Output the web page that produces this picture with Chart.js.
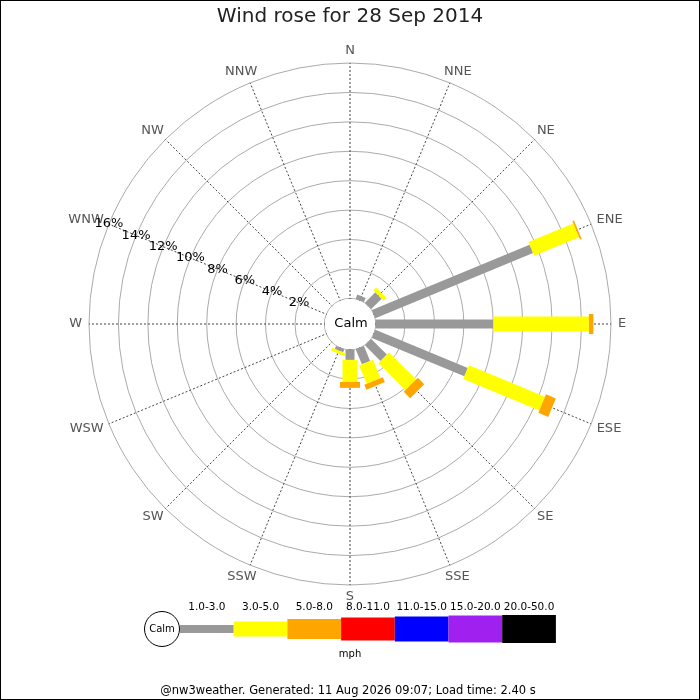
<!DOCTYPE html>
<html>
<head>
<meta charset="utf-8">
<script src="https://cdn.jsdelivr.net/npm/chart.js@4/dist/chart.umd.min.js"></script>
<style>
  body { margin: 0; background: #fff; }
  #wrap { position: relative; width: 700px; height: 700px; }
  #frame { position: absolute; left: 0; top: 0; width: 700px; height: 700px; box-sizing: border-box; border: 1px solid #000; pointer-events: none; }
</style>
</head>
<body>
<div id="wrap">
  <canvas id="rose" width="700" height="700"></canvas>
  <div id="frame"></div>
</div>
<script>
// compass points, clockwise from north
const directions = ["N", "NNE", "NE", "ENE", "E", "ESE", "SE", "SSE", "S", "SSW", "SW", "WSW", "W", "WNW", "NW", "NNW"];

// % of the day per direction and speed band (mph)
const speed1to3 = [0, 0.3, 1.0, 11.6, 8.0, 6.8, 1.5, 1.1, 0.7, 0.22, 0, 0, 0, 0, 0, 0];
const speed3to5 = [0, 0, 0.27, 3.3, 6.5, 5.6, 2.6, 1.35, 1.5, 0.2, 0, 0, 0, 0, 0, 0];
const speed5to8 = [0, 0, 0, 0.12, 0.3, 0.72, 0.62, 0.36, 0.4, 0, 0, 0, 0, 0, 0, 0];
const speed8to11 = [0, 0, 0, 0, 0, 0, 0, 0, 0, 0, 0, 0, 0, 0, 0, 0];
const speed11to15 = [0, 0, 0, 0, 0, 0, 0, 0, 0, 0, 0, 0, 0, 0, 0, 0];
const speed15to20 = [0, 0, 0, 0, 0, 0, 0, 0, 0, 0, 0, 0, 0, 0, 0, 0];
const speed20to50 = [0, 0, 0, 0, 0, 0, 0, 0, 0, 0, 0, 0, 0, 0, 0, 0];

const bandLabels = ["1.0-3.0", "3.0-5.0", "5.0-8.0", "8.0-11.0", "11.0-15.0", "15.0-20.0", "20.0-50.0"];
const percentTicks = [2, 4, 6, 8, 10, 12, 14, 16];

const bandColors = ["#999999", "#ffff00", "#ffa500", "#ff0000", "#0000ff", "#a020f0", "#000000"];
const barWidths = [9, 15, 20, 23, 25, 27, 28];
const CALM_OFFSET = 1.74; // room for the calm circle, in % units
const FONT = "DejaVu Sans";

const series = [speed1to3, speed3to5, speed5to8, speed8to11, speed11to15, speed15to20, speed20to50];

const rosePlugin = {
    id: "rosePlugin",
    beforeDatasetsDraw(chart) {
        const r = chart.scales.r;
        const ctx = chart.ctx;
        // blank the middle for the calm circle
        ctx.save();
        ctx.beginPath();
        ctx.arc(r.xCenter, r.yCenter, r.getDistanceFromCenterForValue(0) - 0.5, 0, Math.PI * 2);
        ctx.fillStyle = "#fff";
        ctx.fill();
        ctx.restore();
    },
    afterDatasetsDraw(chart) {
        const r = chart.scales.r;
        const ctx = chart.ctx;
        ctx.save();
        ctx.lineCap = "butt";

        // stacked bars per direction
        directions.forEach((d, i) => {
            let cum = 0;
            chart.data.datasets.forEach((ds, b) => {
                const v = ds.data[i];
                if (!v) return;
                const p1 = r.getPointPosition(i, r.getDistanceFromCenterForValue(cum));
                const p2 = r.getPointPosition(i, r.getDistanceFromCenterForValue(cum + v));
                ctx.beginPath();
                ctx.moveTo(p1.x, p1.y);
                ctx.lineTo(p2.x, p2.y);
                ctx.lineWidth = barWidths[b];
                ctx.strokeStyle = bandColors[b];
                ctx.stroke();
                cum += v;
            });
        });

        // calm label
        ctx.fillStyle = "#000";
        ctx.font = "13px '" + FONT + "'";
        ctx.textAlign = "center";
        ctx.textBaseline = "middle";
        ctx.fillText("Calm", r.xCenter + 1, r.yCenter);

        // direction labels
        ctx.font = "13px '" + FONT + "'";
        ctx.fillStyle = "#555";
        const outer = r.getDistanceFromCenterForValue(r.max);
        directions.forEach((d, i) => {
            const a = r.getIndexAngle(i);
            const p = r.getPointPosition(i, outer + 7);
            const w = ctx.measureText(d).width;
            ctx.fillText(d, p.x + Math.sin(a) * w / 2, p.y - Math.cos(a) * 5);
        });

        // percentage labels along WNW
        ctx.fillStyle = "#000";
        const wnw = directions.indexOf("WNW");
        percentTicks.forEach((t) => {
            const p = r.getPointPosition(wnw, r.getDistanceFromCenterForValue(t));
            ctx.fillText(t + "%", p.x, p.y);
        });

        // speed key
        const keyY = 629;
        const segW = 53.7;
        let x = 180;
        ctx.beginPath();
        ctx.arc(162, keyY, 17.5, 0, Math.PI * 2);
        ctx.fillStyle = "#fff";
        ctx.fill();
        ctx.lineWidth = 1;
        ctx.strokeStyle = "#000";
        ctx.stroke();
        ctx.fillStyle = "#000";
        ctx.font = "10px '" + FONT + "'";
        ctx.fillText("Calm", 162, keyY);
        ctx.font = "10.5px '" + FONT + "'";
        bandLabels.forEach((lab, b) => {
            const h = barWidths[b] + (b === 0 ? -1 : 0);
            ctx.fillStyle = bandColors[b];
            ctx.fillRect(x, keyY - h / 2, segW, h);
            ctx.fillStyle = "#000";
            ctx.fillText(lab, x + segW / 2, 607);
            x += segW;
        });
        ctx.font = "10px '" + FONT + "'";
        ctx.fillText("mph", 350, 654);

        // footer
        ctx.font = "11.5px '" + FONT + "'";
        ctx.fillText("@nw3weather. Generated: 11 Aug 2026 09:07; Load time: 2.40 s", 348, 691);
        ctx.restore();
    }
};

new Chart(document.getElementById("rose").getContext("2d"), {
    type: "radar",
    data: {
        labels: directions,
        datasets: series.map((s, b) => ({
            label: bandLabels[b],
            data: s,
            borderWidth: 0,
            pointRadius: 0,
            backgroundColor: "rgba(0,0,0,0)",
            fill: false,
            showLine: false
        }))
    },
    options: {
        responsive: false,
        animation: false,
        events: [],
        layout: { padding: { left: 89, right: 89, top: 0, bottom: 115 } },
        scales: {
            r: {
                min: -CALM_OFFSET,
                max: 16,
                ticks: { display: false, stepSize: 2 },
                grid: {
                    circular: true,
                    lineWidth: 1,
                    color: (c) => (c.tick && c.tick.value < 0 ? "rgba(0,0,0,0)" : "#aaa")
                },
                angleLines: { display: true, color: "#444", lineWidth: 1, borderDash: [2, 2] },
                pointLabels: { display: false }
            }
        },
        plugins: {
            legend: { display: false },
            tooltip: { enabled: false },
            title: {
                display: true,
                text: "Wind rose for 28 Sep 2014",
                color: "#222",
                font: { family: FONT, size: 20, weight: "normal" },
                padding: { top: 5, bottom: 34 }
            }
        }
    },
    plugins: [rosePlugin]
});
</script>
</body>
</html>
